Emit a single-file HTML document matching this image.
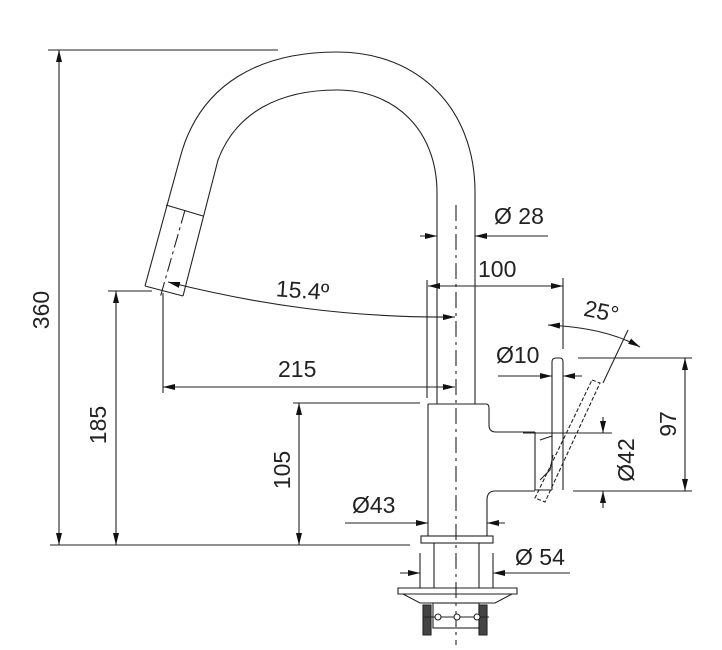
<!DOCTYPE html>
<html><head><meta charset="utf-8"><style>
html,body{margin:0;padding:0;background:#fff;}
svg{display:block;}
text{font-family:"Liberation Sans",Arial,sans-serif;fill:#222;font-size:23px;}
</style></head><body>
<svg width="722" height="650" viewBox="0 0 722 650" xmlns="http://www.w3.org/2000/svg">
<defs>
<marker id="a" viewBox="0 0 12 6" refX="12" refY="3" markerWidth="12" markerHeight="6" markerUnits="userSpaceOnUse" orient="auto-start-reverse">
<path d="M0,0 L12,3 L0,6 z" fill="#111"/></marker>
</defs>
<g fill="none" stroke="#222" stroke-width="1.1">
<!-- reference lines -->
<line x1="48" y1="50" x2="278" y2="50"/>
<line x1="50" y1="545" x2="410" y2="545"/>
<line x1="108" y1="291" x2="152" y2="291"/>
<line x1="293" y1="403" x2="420" y2="403"/>
<!-- vertical dims -->
<line x1="59" y1="50" x2="59" y2="545" marker-start="url(#a)" marker-end="url(#a)"/>
<line x1="116" y1="291" x2="116" y2="545" marker-start="url(#a)" marker-end="url(#a)"/>
<line x1="299" y1="403" x2="299" y2="545" marker-start="url(#a)" marker-end="url(#a)"/>
<!-- spout -->
<path d="M145,286 L180,158 C200,82 262,52 337,52 C420,52 475,110 475,192 L475,404"/>
<path d="M183,296 L218,160 C236,112 280,90 337,90 C395,90 437,130 437,193 L437,404"/>
<path d="M145,286 L183,296"/>
<path d="M166,205 L203,216"/>
<path d="M185,210 L160,298" stroke-dasharray="14,4,3,4"/>
<!-- centerline -->
<line x1="456" y1="205" x2="456" y2="645" stroke-dasharray="16,5,3,5"/>
<!-- 15.4 -->
<line x1="163" y1="293" x2="163" y2="393"/>
<line x1="427" y1="280" x2="427" y2="398"/>
<path d="M168,282 C260,305 350,318 455,317" marker-start="url(#a)" marker-end="url(#a)"/>
<line x1="163" y1="387" x2="455" y2="387" marker-start="url(#a)" marker-end="url(#a)"/>
<!-- 28 -->
<line x1="420" y1="236" x2="437" y2="236" marker-end="url(#a)"/>
<line x1="548" y1="236" x2="475" y2="236" marker-end="url(#a)"/>
<!-- 100 -->
<line x1="428" y1="286" x2="563" y2="286" marker-start="url(#a)" marker-end="url(#a)"/>
<line x1="563" y1="278" x2="563" y2="349"/>
<!-- body -->
<path d="M428,404 L486,404 Q489,404 489,408 L489,425 Q489,432 496,432 L535,432"/>
<path d="M428,404 L428,536"/>
<path d="M487,536 L487,500 Q487,491 495,491 L535,491"/>
<!-- handle -->
<path d="M552,490 L552,362 Q552,358 556,358 L560,358 Q563,358 563,362 L563,490"/>
<path d="M535,432 L535,490 L552,490"/>
<path d="M540,440 L552,436"/>
<path d="M540,480 L550,470 L553,455"/>
<path d="M592,380 L600,383 L545,502 L535,498 Z" stroke-dasharray="4,2"/>
<line x1="628" y1="330" x2="603" y2="383"/>
<path d="M548,325 C585,327 615,333 640,347" marker-start="url(#a)" marker-end="url(#a)"/>
<!-- Ø10 -->
<line x1="498" y1="376" x2="552" y2="376" marker-end="url(#a)"/>
<line x1="582" y1="376" x2="563" y2="376" marker-end="url(#a)"/>
<!-- 97 -->
<line x1="578" y1="358" x2="692" y2="358"/>
<line x1="573" y1="491" x2="692" y2="491"/>
<line x1="685" y1="358" x2="685" y2="491" marker-start="url(#a)" marker-end="url(#a)"/>
<!-- Ø42 -->
<line x1="523" y1="433" x2="612" y2="433"/>
<line x1="603" y1="417" x2="603" y2="433" marker-end="url(#a)"/>
<line x1="603" y1="508" x2="603" y2="491" marker-end="url(#a)"/>
<!-- Ø43 -->
<line x1="345" y1="523" x2="428" y2="523" marker-end="url(#a)"/>
<line x1="505" y1="523" x2="487" y2="523" marker-end="url(#a)"/>
<!-- base -->
<rect x="421" y="536" width="72" height="7"/>
<line x1="434" y1="543" x2="434" y2="588"/>
<line x1="479" y1="543" x2="479" y2="588"/>
<line x1="420" y1="553" x2="420" y2="588"/>
<line x1="493" y1="553" x2="493" y2="588"/>
<line x1="400" y1="573" x2="420" y2="573" marker-end="url(#a)"/>
<line x1="570" y1="573" x2="493" y2="573" marker-end="url(#a)"/>
<path d="M398,588 L517,588 L517,594 L398,594 Z"/>
<path d="M403,594 L420,603 L495,603 L512,594"/>
<rect x="433" y="603" width="46" height="25"/>
<path d="M423,605 h8 v30 h-8 z M479,605 h8 v30 h-8 z" fill="#444"/>
<line x1="423" y1="617" x2="489" y2="617"/>
<circle cx="438" cy="617" r="3" fill="#fff"/>
<circle cx="457" cy="617" r="3" fill="#fff"/>
<circle cx="477" cy="617" r="3" fill="#fff"/>
</g>
<text x="494" y="224">Ø 28</text>
<text x="478" y="277">100</text>
<text x="276" y="298" transform="rotate(4 300 290)">15.4º</text>
<text x="278" y="377">215</text>
<text x="584" y="320" transform="rotate(12 605 312)">25°</text>
<text x="496" y="363">Ø10</text>
<text x="352" y="513">Ø43</text>
<text x="515" y="565">Ø 54</text>
<text transform="translate(49,310) rotate(-90)" text-anchor="middle">360</text>
<text transform="translate(106,425) rotate(-90)" text-anchor="middle">185</text>
<text transform="translate(290,470) rotate(-90)" text-anchor="middle">105</text>
<text transform="translate(676,424) rotate(-90)" text-anchor="middle">97</text>
<text transform="translate(634,460) rotate(-90)" text-anchor="middle">Ø42</text>
</svg>
</body></html>
